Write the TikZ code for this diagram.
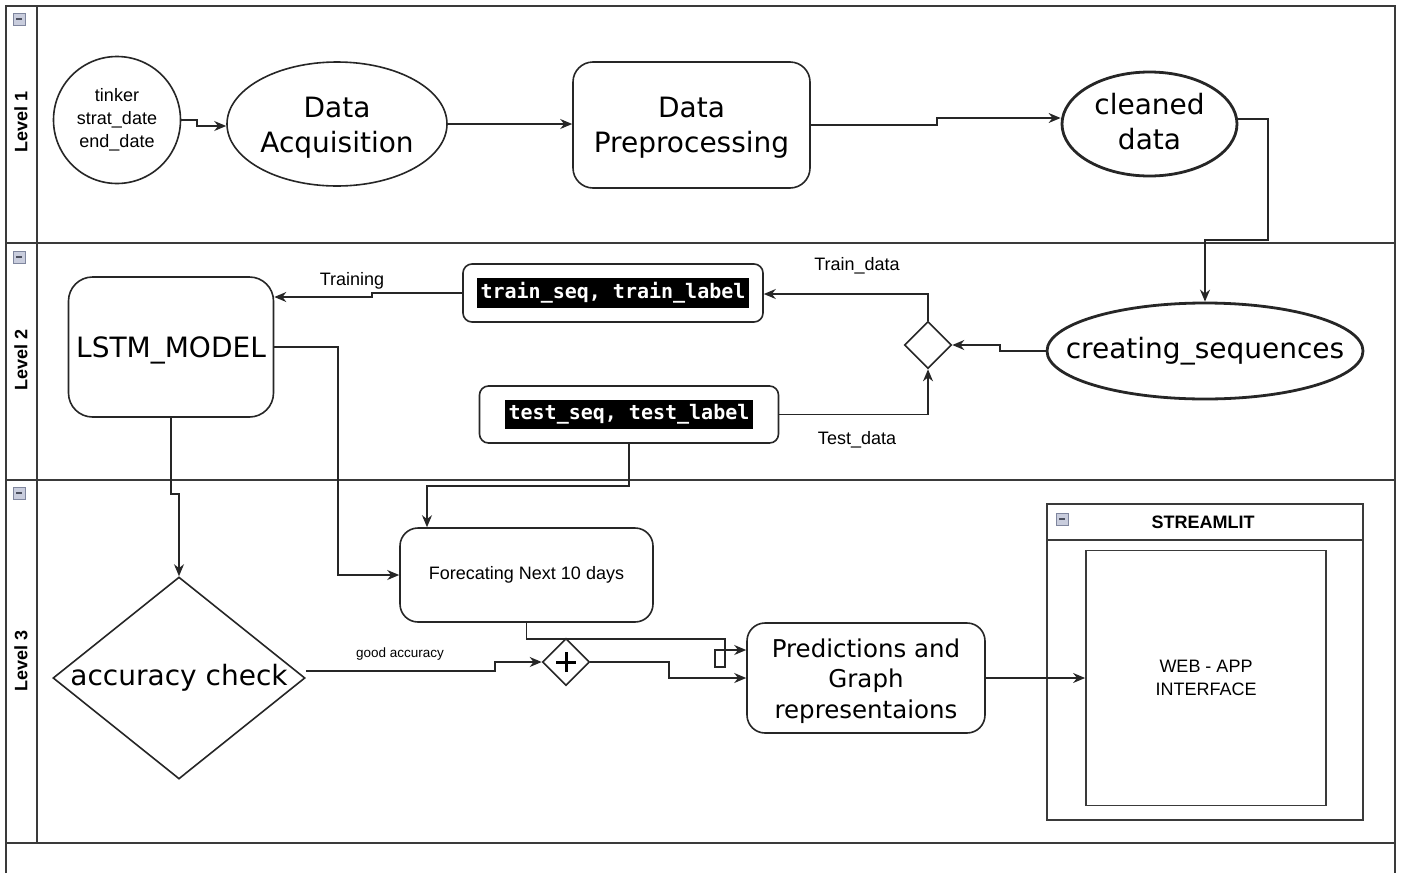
\documentclass[tikz,border=0pt]{standalone}
\usepackage{fontspec}
\usetikzlibrary{arrows.meta,shapes.geometric}
\newfontfamily\shapefont{DejaVu Sans}
\newfontfamily\labelfont{Liberation Sans}
\newfontfamily\codefont{DejaVu Sans Mono}
\definecolor{lanegray}{HTML}{3A3A3A}
\definecolor{iconfill}{HTML}{C9CDDD}
\definecolor{icondraw}{HTML}{7F869E}
% white-on-black code snippet
\newcommand\hlcode[1]{{\setlength{\fboxsep}{4pt}\colorbox{black}{\color{white}\codefont\bfseries\fontsize{20}{24}\selectfont\rule[-5pt]{0pt}{20pt}#1}}}

\begin{document}
\begin{tikzpicture}[x=1pt,y=-1pt,
  lane/.style={draw=lanegray,line width=2pt},
  icon/.style={draw=icondraw,fill=iconfill,line width=0.8pt,minimum size=12pt,inner sep=0pt,
     path picture={\draw[icondraw!60!black,line width=1.2pt]
       ([xshift=-3pt]path picture bounding box.center) -- ([xshift=3pt]path picture bounding box.center);}},
  lanelabel/.style={rotate=90,font=\labelfont\bfseries\fontsize{18}{18}\selectfont},
  bigtext/.style={font=\shapefont\fontsize{28}{35}\selectfont,align=center},
  smalltext/.style={font=\labelfont\fontsize{18}{23}\selectfont,align=center},
  shapeline/.style={draw=black!85,line width=1.6pt},
  task/.style={shapeline,rounded corners=20pt,inner sep=0pt},
  event/.style={shapeline,ellipse,inner sep=0pt},
  startev/.style={shapeline,circle,inner sep=0pt},
  gateway/.style={shapeline,diamond,inner sep=0pt,minimum width=47pt,minimum height=47pt},
  flow/.style={draw=black!85,line width=1.4pt,-{Stealth[length=12pt,width=10pt]}},
  plain/.style={draw=black!85,line width=1.4pt}
]
\useasboundingbox (0,0) rectangle (1403,873);
\fill[white] (0,0) rectangle (1403,873);

% pool with three lanes
\draw[lane] (6,873) -- (6,6) -- (1395,6) -- (1395,873);
\draw[lane] (37,6) -- (37,843);
\draw[lane] (6,243) -- (1395,243);
\draw[lane] (6,480) -- (1395,480);
\draw[lane] (6,843) -- (1395,843);
\node[icon] (ic1) at (19,19) {};
\node[icon] (ic2) at (19,257) {};
\node[icon] (ic3) at (19,493) {};
\node[lanelabel] (lv1) at (21,122) {Level 1};
\node[lanelabel] (lv2) at (21,360) {Level 2};
\node[lanelabel] (lv3) at (21,661) {Level 3};

% Level 1
\node[startev,minimum size=127pt,smalltext] (inp) at (117,120) {tinker\\strat\_date\\end\_date};
\node[event,minimum width=220pt,minimum height=124pt,
      label={[bigtext,yshift=-4pt]center:Data\\Acquisition}] (acq) at (337,124) {};
\node[task,minimum width=237pt,minimum height=126pt,
      label={[bigtext,yshift=-3pt]center:Data\\Preprocessing}] (prep) at (691.5,125) {};
\node[event,line width=2.8pt,minimum width=175pt,minimum height=104pt,
      label={[bigtext,yshift=2pt]center:cleaned\\data}] (clean) at (1149.5,124) {};

% Level 2
\node[event,line width=2.8pt,minimum width=316pt,minimum height=96pt,
      label={[bigtext]center:creating\_sequences}] (seq) at (1205,351) {};
\node[gateway] (split) at (928,345) {};
\node[task,rounded corners=9pt,minimum width=300pt,minimum height=58pt] (train) at (613,293) {\hlcode{train\_seq, train\_label}};
\node[task,rounded corners=9pt,minimum width=299pt,minimum height=57pt] (test) at (629,414.5) {\hlcode{test\_seq, test\_label}};
\node[task,rounded corners=24pt,minimum width=205pt,minimum height=140pt,
      label={[bigtext,yshift=-3pt]center:LSTM\_MODEL}] (lstm) at (171,347) {};

% Level 3
\node[shapeline,diamond,shape aspect=1.25,minimum width=252pt,minimum height=202pt,inner sep=0pt,bigtext] (acc) at (179,678) {accuracy check};
\node[task,rounded corners=18pt,minimum width=253pt,minimum height=94pt,smalltext] (fc) at (526.5,575) {Forecating Next 10 days};
\node[gateway] (merge) at (566,662) {};
\draw[line width=3pt] (merge.center) +(-10,0) -- +(10,0) (merge.center) +(0,-10) -- +(0,10);
\node[task,rounded corners=18pt,minimum width=238pt,minimum height=110pt,
      label={[font=\shapefont\fontsize{24.5}{30.5}\selectfont,align=center,yshift=-3pt]center:Predictions and\\Graph\\representaions}] (pred) at (866,678) {};

% Streamlit container
\node[draw=lanegray,line width=1.8pt,minimum width=316pt,minimum height=316pt,inner sep=0pt] (app) at (1205,662) {};
\draw[lane,line width=1.8pt] ([yshift=-37pt]app.north west) -- ([yshift=-37pt]app.north east);
\node[font=\labelfont\bfseries\fontsize{18}{18}\selectfont] (applabel) at (1203,522) {STREAMLIT};
\node[icon] (appicon) at (1062,519) {};
\node[draw=lanegray,line width=1.8pt,minimum width=240pt,minimum height=255pt,inner sep=0pt,smalltext] (web) at (1206,678) {WEB - APP\\INTERFACE};

% sequence flows
\draw[flow] (inp.east) -- (197,120) -- (197,126) -- (acq.west |- 0,126);
\draw[flow] (acq.east) -- (acq.east -| prep.west);
\draw[flow] (prep.east) -- (937,125) -- (937,118) -- (clean.west |- 0,118);
\draw[flow] (clean.east |- 0,119) -- (1268,119) -- (1268,240) -- (1205,240) -- (seq.north);
\draw[flow] (seq.west) -- (1000,351) -- (1000,345) -- (split.east);
\draw[flow] (split.north) -- (928,294) -- (train.east |- 0,294);
\draw[flow] (test.east) -- (928,414.5) -- (split.south);
\draw[flow] (train.west) -- (372,293) -- (372,297) -- (lstm.east |- 0,297);
\draw[flow] (lstm.east) -- (338,347) -- (338,575) -- (fc.west);
\draw[flow] (lstm.south) -- (171,494) -- (179,494) -- (acc.north);
\draw[flow] (test.south) -- (629,486) -- (427,486) -- (fc.north -| 427,0);
\draw[flow] ([yshift=7pt]acc.east) -- (495,671) -- (495,662) -- (merge.west);
\draw[flow] (merge.east) -- (669,662) -- (669,678) -- (pred.west);
\draw[flow] (fc.south) -- (526.5,639) -- (725,639) -- (725,650) -- (pred.west |- 0,650);
\draw[plain,line width=1.2pt] (715,650) rectangle (725,667);
\draw[flow] (pred.east) -- (web.west);

% flow labels
\node[smalltext] (lblTraining) at (352,281) {Training};
\node[smalltext] (lblTrain) at (857,266) {Train\_data};
\node[smalltext] (lblTest) at (857,440) {Test\_data};
\node[font=\labelfont\fontsize{13.5}{14}\selectfont] (lblGood) at (400,654) {good accuracy};
\end{tikzpicture}
\end{document}
